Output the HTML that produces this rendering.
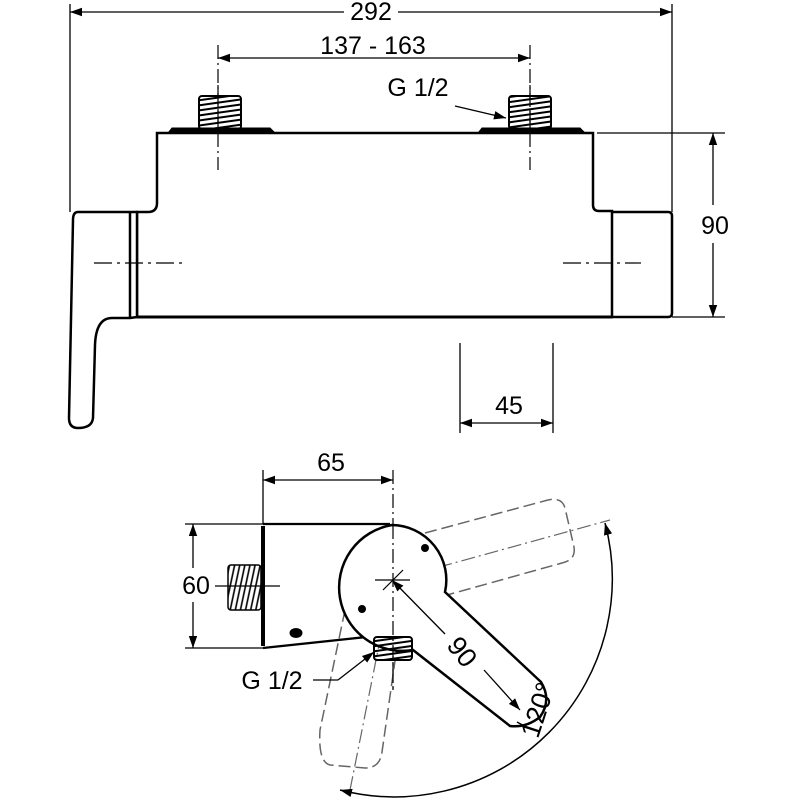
<!DOCTYPE html>
<html><head><style>html,body{margin:0;background:#fff}svg{display:block}</style></head><body>
<svg width="800" height="800" viewBox="0 0 800 800" xmlns="http://www.w3.org/2000/svg" font-family="Liberation Sans, sans-serif">
<defs>
<marker id="a" viewBox="0 0 10 10" refX="10" refY="5" markerWidth="12" markerHeight="12" markerUnits="userSpaceOnUse" orient="auto-start-reverse"><path d="M0,1.5 L10,5 L0,8.5z" fill="#000"/></marker>
<pattern id="h" width="6" height="5" patternUnits="userSpaceOnUse" patternTransform="rotate(-8)"><line x1="0" y1="2" x2="6" y2="2" stroke="#000" stroke-width="2"/></pattern>
<pattern id="hv" width="5" height="6" patternUnits="userSpaceOnUse" patternTransform="rotate(12)"><line x1="2" y1="0" x2="2" y2="6" stroke="#000" stroke-width="1.6"/></pattern>
</defs>
<g stroke="#000" fill="none">
<line x1="70" y1="4" x2="70" y2="212" stroke-width="1.3"/>
<line x1="672" y1="4" x2="672" y2="212" stroke-width="1.3"/>
<line x1="70" y1="12" x2="672" y2="12" stroke-width="1.3" marker-start="url(#a)" marker-end="url(#a)"/>
<line x1="218" y1="45" x2="218" y2="170" stroke-width="1.2" stroke-dasharray="14,4,2,4"/>
<line x1="530" y1="45" x2="530" y2="170" stroke-width="1.2" stroke-dasharray="14,4,2,4"/>
<line x1="218" y1="58" x2="530" y2="58" stroke-width="1.3" marker-start="url(#a)" marker-end="url(#a)"/>
<line x1="455" y1="106" x2="506" y2="118" stroke-width="1.3" marker-end="url(#a)"/>
<path d="M157,133 H593 V205 Q593,211 599,211 H612 V317 H137 V212 H148 Q157,212 157,203 Z" stroke-width="2.5" fill="#fff"/>
<path d="M612,212 H668 Q672,212 672,216 V313 Q672,317 668,317 H612" stroke-width="2.5"/>
<path d="M130,212 H78 Q73,212 73,220 L69,418 Q69,428 78,428 Q92,428 93,418 L95,345 Q96,318 112,318 H130 L137,317 V212 L130,212 V318" stroke-width="2.5" fill="#fff"/>
<line x1="137" y1="317" x2="612" y2="317" stroke-width="3"/>
<path d="M168,133 L172,128 H270 L275,133 Z" fill="#000" stroke-width="1"/>
<path d="M478,133 L482,128 H580 L585,133 Z" fill="#000" stroke-width="1"/>
<rect x="199" y="96" width="42" height="33" rx="3" fill="url(#h)" stroke-width="2"/>
<rect x="509" y="96" width="42" height="33" rx="3" fill="url(#h)" stroke-width="2"/>
<line x1="218" y1="85" x2="218" y2="170" stroke-width="1.2" stroke-dasharray="14,4,2,4"/>
<line x1="530" y1="85" x2="530" y2="170" stroke-width="1.2" stroke-dasharray="14,4,2,4"/>
<line x1="94" y1="263" x2="182" y2="263" stroke-width="1.2" stroke-dasharray="18,5,3,5"/>
<line x1="563" y1="263" x2="641" y2="263" stroke-width="1.2" stroke-dasharray="18,5,3,5"/>
<line x1="597" y1="133" x2="725" y2="133" stroke-width="1.3"/>
<line x1="672" y1="317" x2="725" y2="317" stroke-width="1.3"/>
<line x1="713" y1="133" x2="713" y2="205" stroke-width="1.3" marker-start="url(#a)"/>
<line x1="713" y1="243" x2="713" y2="317" stroke-width="1.3" marker-end="url(#a)"/>
<line x1="460" y1="343" x2="460" y2="433" stroke-width="1.3"/>
<line x1="553" y1="343" x2="553" y2="433" stroke-width="1.3"/>
<line x1="460" y1="423" x2="553" y2="423" stroke-width="1.3" marker-start="url(#a)" marker-end="url(#a)"/>

<line x1="263" y1="470" x2="263" y2="524" stroke-width="1.3"/>
<line x1="393" y1="470" x2="393" y2="690" stroke-width="1.2" stroke-dasharray="14,4,2,4"/>
<line x1="263" y1="480" x2="393" y2="480" stroke-width="1.3" marker-start="url(#a)" marker-end="url(#a)"/>
<g stroke="#666" stroke-width="1.5" stroke-dasharray="12,5">
<path d="M425,533 L548,500 Q562,497 565,508 L574,547 Q576,560 562,563 L447,595"/>
<path d="M345,610 L320,730 Q318,762 330,765 L365,768 Q380,768 382,752 L398,640"/>
</g>
<line x1="350" y1="790" x2="392" y2="580" stroke="#666" stroke-width="1.2" stroke-dasharray="14,4,2,4"/>
<line x1="392" y1="580" x2="610" y2="520" stroke="#666" stroke-width="1.2" stroke-dasharray="14,4,2,4"/>
<path d="M263,524 H390 M263,648 L385,635" stroke-width="2.3"/>
<line x1="263" y1="526" x2="263" y2="646" stroke-width="4"/>
<rect x="228" y="565" width="33" height="45" rx="3" fill="url(#hv)" stroke-width="1.5"/>
<path d="M392,525 A55,55 0 0 1 445,592 L541,682 Q552,700 540,717 Q526,728 510,726 L413,650 A55,55 0 1 1 392,525 Z" stroke-width="2.5" fill="#fff"/>
<line x1="393" y1="525" x2="393" y2="690" stroke-width="1.2" stroke-dasharray="14,4,2,4"/>
<rect x="374" y="637" width="38" height="23" rx="3" fill="url(#h)" stroke-width="2"/>
<circle cx="425" cy="548" r="3.5" fill="#000"/>
<circle cx="362" cy="609" r="3.5" fill="#000"/>
<ellipse cx="296" cy="633" rx="6" ry="4.5" fill="#000"/>
<line x1="375" y1="580" x2="410" y2="580" stroke-width="1.2"/>
<line x1="383" y1="590" x2="403" y2="570" stroke-width="1.2"/>
<line x1="185" y1="524" x2="263" y2="524" stroke-width="1.3"/>
<line x1="185" y1="648" x2="263" y2="648" stroke-width="1.3"/>
<line x1="193" y1="524" x2="193" y2="568" stroke-width="1.3" marker-start="url(#a)"/>
<line x1="193" y1="602" x2="193" y2="648" stroke-width="1.3" marker-end="url(#a)"/>
<line x1="215" y1="586" x2="280" y2="586" stroke-width="1.3"/>
<line x1="313" y1="680" x2="338" y2="680" stroke-width="1.3"/>
<line x1="338" y1="680" x2="374" y2="652" stroke-width="1.3" marker-end="url(#a)"/>
<line x1="392" y1="580" x2="445" y2="634" stroke-width="1.3" marker-start="url(#a)"/>
<line x1="484" y1="670" x2="520" y2="710" stroke-width="1.3" marker-end="url(#a)"/>
<path d="M605,523 A218,218 0 0 1 340,790" stroke-width="1.5" marker-start="url(#a)" marker-end="url(#a)"/>
<line x1="517" y1="722" x2="528" y2="728" stroke-width="1.3"/>
</g>
<g font-size="25" fill="#000" text-anchor="middle">
<rect x="344" y="0" width="54" height="24" fill="#fff"/>
<text x="371" y="20">292</text>
<text x="373" y="54">137 - 163</text>
<text x="418" y="96">G 1/2</text>
<text x="715" y="234">90</text>
<text x="509" y="414">45</text>
<text x="331" y="471">65</text>
<text x="196" y="594">60</text>
<text x="272" y="689">G 1/2</text>
<text x="0" y="0" transform="translate(462,652) rotate(52)" dy="9" font-size="27">90</text>
<text x="0" y="0" transform="translate(538,710) rotate(-72)" dy="9" font-size="27">120°</text>
</g>
</svg>
</body></html>
